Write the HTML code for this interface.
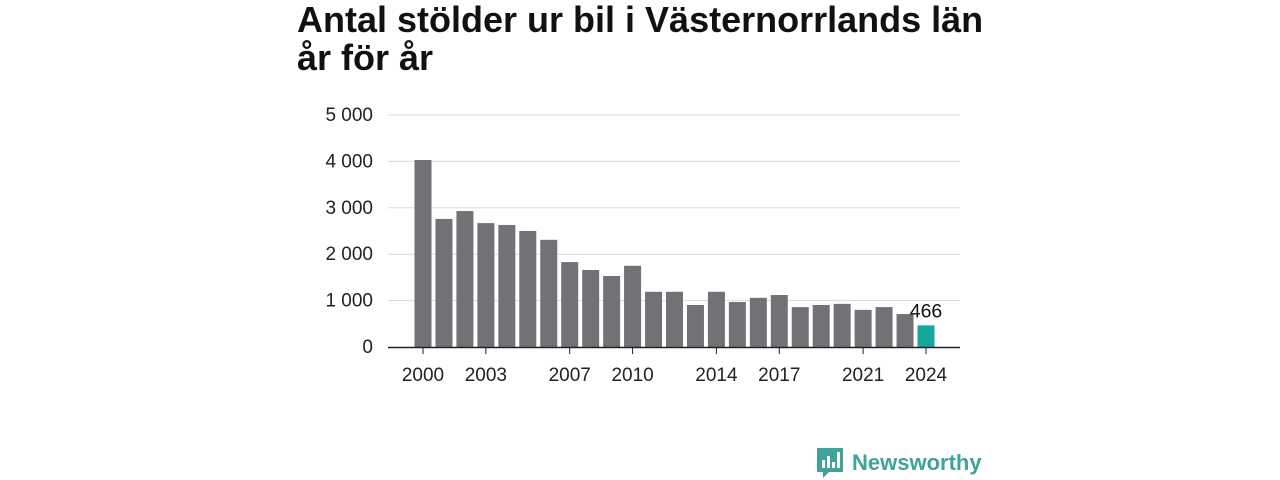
<!DOCTYPE html>
<html><head><meta charset="utf-8"><style>
body{margin:0;width:1280px;height:480px;background:#fff;font-family:"Liberation Sans",sans-serif;overflow:hidden;position:relative}
h1{position:absolute;left:297px;top:1px;margin:0;font-size:36px;line-height:38px;font-weight:bold;color:#111}
</style></head><body>
<h1>Antal stölder ur bil i Västernorrlands län<br>år för år</h1>
<svg id="c" width="1280" height="480" style="position:absolute;left:0;top:0"></svg>
<div style="position:absolute;left:815px;top:446px;display:flex;align-items:center">
<svg width="30" height="34"><path d="M2 2h26v24H14l-6 6v-6H2z" fill="#3fa39a"/><rect x="7" y="14" width="3" height="8" fill="#fff"/><rect x="12" y="10" width="3" height="12" fill="#fff"/><rect x="17" y="16" width="3" height="6" fill="#fff"/><rect x="22" y="6" width="3" height="16" fill="#fff"/></svg>
<span style="margin-left:7px;font-size:22px;color:#3fa39a;font-weight:bold">Newsworthy</span></div>
<script>
const years=[2000,2001,2002,2003,2004,2005,2006,2007,2008,2009,2010,2011,2012,2013,2014,2015,2016,2017,2018,2019,2020,2021,2022,2023,2024];
const values=[4030,2760,2930,2670,2630,2500,2310,1830,1660,1530,1750,1190,1190,905,1190,970,1060,1120,860,905,930,800,860,710,466];
const yTicks=[0,1000,2000,3000,4000,5000];
const yTickLabels=["0","1 000","2 000","3 000","4 000","5 000"];
const xTickYears=[2000,2003,2007,2010,2014,2017,2021,2024];
const svg=document.getElementById('c');const NS='http://www.w3.org/2000/svg';
const y=v=>347-v*(232/5000);
const x=yr=>423+(yr-2000)*(503/24);
function mk(t,a,txt){const e=document.createElementNS(NS,t);for(const k in a)e.setAttribute(k,a[k]);if(txt!=null)e.textContent=txt;svg.appendChild(e);return e;}
yTicks.forEach((v,i)=>{
 if(v>0){const g=mk('line',{x1:388,x2:960,y1:y(v),y2:y(v),stroke:'#d9d9d9','stroke-width':1});
 
 }
 const t=mk('text',{x:373,y:y(v)+6,'text-anchor':'end','font-size':19,fill:'#222'},yTickLabels[i]);
 
 
});
years.forEach((yr,i)=>{
 const last=i===years.length-1;
 const r=mk('rect',{x:x(yr)-8.5,y:y(values[i]),width:17,height:347-y(values[i]),fill:last?'#13a89e':'#727176'});
 
 
});
const li=years.length-1;
const vl=mk('text',{x:x(years[li]),y:y(values[li])-8,'text-anchor':'middle','font-size':19.5,fill:'#111'},String(values[li]));


const ax=mk('line',{x1:388,x2:960,y1:347.5,y2:347.5,stroke:'#222','stroke-width':1.5});


xTickYears.forEach(yr=>{
 const tk=mk('line',{x1:x(yr),x2:x(yr),y1:348,y2:354,stroke:'#222','stroke-width':1});
 
 
 const t=mk('text',{x:x(yr),y:381,'text-anchor':'middle','font-size':19,fill:'#222'},String(yr));
 
 
});
</script>
</body></html>
